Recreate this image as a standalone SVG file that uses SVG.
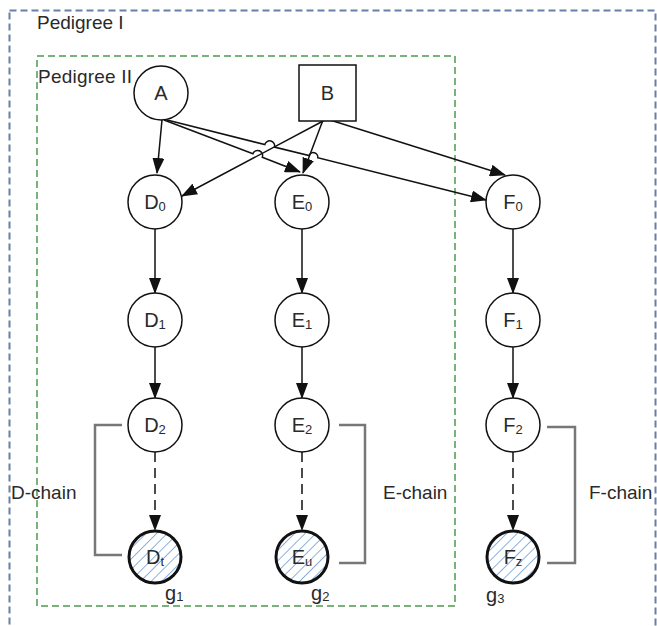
<svg xmlns="http://www.w3.org/2000/svg" width="657" height="626" viewBox="0 0 657 626">
<defs>
<style>
.t{font-family:"Liberation Sans",Arial,sans-serif;fill:#2a2a2a;}
.lbl{font-size:19px;}
.nl{font-size:20px;text-anchor:middle;}
.sub{font-size:13px;}
.node{fill:#fff;stroke:#111;stroke-width:1.5;}
.hn{fill:url(#hatch);stroke:#111;stroke-width:3;}
.edge{fill:none;stroke:#111;stroke-width:1.5;marker-end:url(#arr);}
.dash{stroke-dasharray:10 6;}
.br{fill:none;stroke:#777;stroke-width:2.5;}
</style>
<marker id="arr" markerWidth="16" markerHeight="12" refX="15" refY="6" orient="auto" markerUnits="userSpaceOnUse">
<path d="M0,0 L16,6 L0,12 z" fill="#111"/>
</marker>
<pattern id="hatch" patternUnits="userSpaceOnUse" width="7.5" height="7.5" patternTransform="rotate(45)">
<rect width="7.5" height="7.5" fill="#fff"/>
<line x1="0" y1="0" x2="0" y2="7.5" stroke="#6f9fd6" stroke-width="1.6"/>
</pattern>
</defs>
<rect width="657" height="626" fill="#fff"/>

<g id="pedigree1">
<rect x="9.5" y="10.5" width="646" height="640" fill="none" stroke="#6680a8" stroke-width="2" stroke-dasharray="7 4"/>
<text class="t lbl" x="37" y="29">Pedigree I</text>
</g>
<g id="pedigree2">
<rect x="37" y="56" width="418" height="550" fill="none" stroke="#4f9a4f" stroke-width="1.5" stroke-dasharray="7 4"/>
<text class="t lbl" x="38" y="83" textLength="94">Pedigree II</text>
</g>

<g id="connectors">
<path class="edge" d="M162,120 L157,173"/>
<path class="edge" d="M164,120 L252.9,153.7 A5,5 0 0 1 262.3,157.3 L300,172"/>
<path class="edge" d="M167,120 L264.8,144.6 A5,5 0 0 1 274.5,147.1 L309,155.6 A4.5,4.5 0 0 1 317.7,157.8 L486,200"/>
<path class="edge" d="M325,120 L182,196"/>
<path class="edge" d="M323,120 L303,173"/>
<path class="edge" d="M330,120 L505,175"/>
<path class="edge" d="M155,229 L155,293"/>
<path class="edge" d="M302,229 L302,293"/>
<path class="edge" d="M513,229 L513,293"/>
<path class="edge" d="M155,347 L155,398"/>
<path class="edge" d="M302,347 L302,398"/>
<path class="edge" d="M513,347 L513,398"/>
<path class="edge dash" d="M155,452 L155,530"/>
<path class="edge dash" d="M302,452 L302,530"/>
<path class="edge dash" d="M513,452 L513,530"/>
</g>

<g id="A"><circle class="node" cx="161" cy="93" r="27"/><text class="t nl" x="161" y="100">A</text></g>
<g id="B"><rect class="node" x="299" y="65" width="57" height="56"/><text class="t nl" x="327.5" y="100">B</text></g>

<g id="D0"><circle class="node" cx="155" cy="202" r="27"/><text class="t nl" x="155" y="209">D<tspan class="sub" dy="2">0</tspan></text></g>
<g id="E0"><circle class="node" cx="302" cy="202" r="27"/><text class="t nl" x="302" y="209">E<tspan class="sub" dy="2">0</tspan></text></g>
<g id="F0"><circle class="node" cx="513" cy="202" r="27"/><text class="t nl" x="513" y="209">F<tspan class="sub" dy="2">0</tspan></text></g>

<g id="D1"><circle class="node" cx="155" cy="320" r="27"/><text class="t nl" x="155" y="327">D<tspan class="sub" dy="2">1</tspan></text></g>
<g id="E1"><circle class="node" cx="302" cy="320" r="27"/><text class="t nl" x="302" y="327">E<tspan class="sub" dy="2">1</tspan></text></g>
<g id="F1"><circle class="node" cx="513" cy="320" r="27"/><text class="t nl" x="513" y="327">F<tspan class="sub" dy="2">1</tspan></text></g>

<g id="D2"><circle class="node" cx="155" cy="425" r="27"/><text class="t nl" x="155" y="432">D<tspan class="sub" dy="2">2</tspan></text></g>
<g id="E2"><circle class="node" cx="302" cy="425" r="27"/><text class="t nl" x="302" y="432">E<tspan class="sub" dy="2">2</tspan></text></g>
<g id="F2"><circle class="node" cx="513" cy="425" r="27"/><text class="t nl" x="513" y="432">F<tspan class="sub" dy="2">2</tspan></text></g>

<g id="Dt"><circle class="hn" cx="155" cy="557" r="26"/><text class="t nl" x="155" y="564">D<tspan class="sub" dy="2">t</tspan></text></g>
<g id="Eu"><circle class="hn" cx="302" cy="557" r="26"/><text class="t nl" x="302" y="564">E<tspan class="sub" dy="2">u</tspan></text></g>
<g id="Fz"><circle class="hn" cx="513" cy="557" r="26"/><text class="t nl" x="513" y="564">F<tspan class="sub" dy="2">z</tspan></text></g>

<g id="g1"><text class="t" font-size="20" x="165" y="600">g<tspan class="sub" dy="1">1</tspan></text></g>
<g id="g2"><text class="t" font-size="20" x="311" y="600">g<tspan class="sub" dy="1">2</tspan></text></g>
<g id="g3"><text class="t" font-size="20" x="486" y="602">g<tspan class="sub" dy="1">3</tspan></text></g>

<g id="Dchain">
<path class="br" d="M122,425 L95,425 L95,555 L122,555"/>
<text class="t lbl" x="11" y="499">D-chain</text>
</g>
<g id="Echain">
<path class="br" d="M339,425 L365,425 L365,563 L339,563"/>
<text class="t lbl" x="383" y="499">E-chain</text>
</g>
<g id="Fchain">
<path class="br" d="M547,427 L575,427 L575,563 L547,563"/>
<text class="t lbl" x="589" y="499">F-chain</text>
</g>
</svg>
